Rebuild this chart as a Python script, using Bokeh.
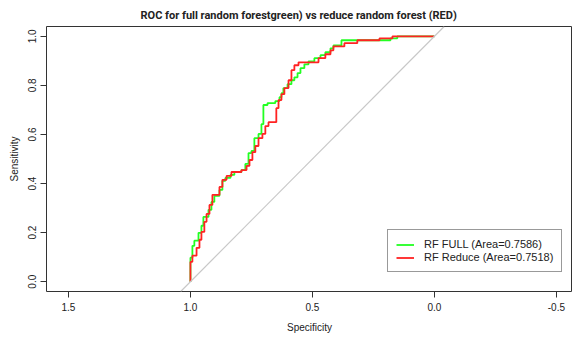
from bokeh.plotting import figure
from bokeh.models import Range1d, FixedTicker, PrintfTickFormatter, Slope, Legend, LegendItem, Title
from bokeh.embed import file_html
from bokeh.resources import INLINE

# ---- data ----
spec_full = [1.000, 1.000, 0.992, 0.992, 0.984, 0.984, 0.967, 0.967, 0.955, 0.955,
             0.947, 0.947, 0.926, 0.926, 0.914, 0.914, 0.902, 0.902, 0.881, 0.881,
             0.869, 0.869, 0.857, 0.857, 0.836, 0.836, 0.820, 0.820, 0.791, 0.791,
             0.775, 0.775, 0.762, 0.762, 0.750, 0.750, 0.738, 0.738, 0.721, 0.721,
             0.709, 0.709, 0.701, 0.701, 0.684, 0.684, 0.652, 0.652, 0.635, 0.635,
             0.627, 0.627, 0.619, 0.619, 0.602, 0.602, 0.586, 0.586, 0.574, 0.574,
             0.561, 0.561, 0.549, 0.549, 0.533, 0.533, 0.516, 0.516, 0.492, 0.492,
             0.467, 0.467, 0.447, 0.447, 0.426, 0.426, 0.414, 0.414, 0.381, 0.381,
             0.180, 0.180, 0.152, 0.152, 0.000]
sens_full = [0.000, 0.098, 0.098, 0.146, 0.146, 0.167, 0.167, 0.199, 0.199, 0.228,
             0.228, 0.264, 0.264, 0.293, 0.293, 0.325, 0.325, 0.350, 0.350, 0.374,
             0.374, 0.411, 0.411, 0.423, 0.423, 0.435, 0.435, 0.447, 0.447, 0.455,
             0.455, 0.480, 0.480, 0.524, 0.524, 0.533, 0.533, 0.585, 0.585, 0.602,
             0.602, 0.642, 0.642, 0.720, 0.720, 0.728, 0.728, 0.736, 0.736, 0.752,
             0.752, 0.768, 0.768, 0.789, 0.789, 0.805, 0.805, 0.821, 0.821, 0.833,
             0.833, 0.850, 0.850, 0.870, 0.870, 0.886, 0.886, 0.898, 0.898, 0.911,
             0.911, 0.923, 0.923, 0.935, 0.935, 0.951, 0.951, 0.963, 0.963, 0.984,
             0.984, 0.992, 0.992, 1.000, 1.000]

spec_reduce = [1.000, 1.000, 0.992, 0.992, 0.975, 0.975, 0.963, 0.963, 0.955, 0.955,
               0.943, 0.943, 0.934, 0.934, 0.922, 0.922, 0.910, 0.910, 0.881, 0.881,
               0.869, 0.869, 0.852, 0.852, 0.832, 0.832, 0.791, 0.791, 0.770, 0.770,
               0.758, 0.758, 0.746, 0.746, 0.734, 0.734, 0.721, 0.721, 0.705, 0.705,
               0.693, 0.693, 0.680, 0.680, 0.648, 0.648, 0.639, 0.639, 0.627, 0.627,
               0.615, 0.615, 0.598, 0.598, 0.586, 0.586, 0.574, 0.574, 0.557, 0.557,
               0.475, 0.475, 0.447, 0.447, 0.426, 0.426, 0.414, 0.414, 0.369, 0.369,
               0.316, 0.316, 0.225, 0.225, 0.172, 0.172, 0.000]
sens_reduce = [0.000, 0.081, 0.081, 0.106, 0.106, 0.138, 0.138, 0.171, 0.171, 0.203,
               0.203, 0.244, 0.244, 0.276, 0.276, 0.313, 0.313, 0.354, 0.354, 0.386,
               0.386, 0.415, 0.415, 0.431, 0.431, 0.447, 0.447, 0.455, 0.455, 0.472,
               0.472, 0.496, 0.496, 0.528, 0.528, 0.553, 0.553, 0.585, 0.585, 0.602,
               0.602, 0.634, 0.634, 0.650, 0.650, 0.707, 0.707, 0.740, 0.740, 0.764,
               0.764, 0.789, 0.789, 0.821, 0.821, 0.862, 0.862, 0.882, 0.882, 0.894,
               0.894, 0.911, 0.911, 0.927, 0.927, 0.943, 0.943, 0.959, 0.959, 0.972,
               0.972, 0.984, 0.984, 0.992, 0.992, 1.000, 1.000]

x_ticks = [1.5, 1.0, 0.5, 0.0, -0.5]
y_ticks = [0.0, 0.2, 0.4, 0.6, 0.8, 1.0]
label_full = "RF FULL (Area=0.7586)"
label_reduce = "RF Reduce (Area=0.7518)"
title_text = "ROC for full random forestgreen) vs reduce random forest (RED)"

FONT = "Liberation Sans"

p = figure(width=572, height=337, output_backend="svg", toolbar_location=None,
           x_range=Range1d(1.59, -0.566), y_range=Range1d(-0.04, 1.04),
           min_border_left=46, min_border_right=0, min_border_top=26, min_border_bottom=46)
p.title = None
p.add_layout(Title(text=title_text, text_font="Roboto", text_font_style="bold",
                   text_font_size="11px", text_color="#222222", align="left",
                   offset=94, standoff=9), "above")

p.background_fill_color = "white"
p.border_fill_color = "white"
p.outline_line_color = "#333333"
p.outline_line_width = 1
p.xgrid.grid_line_color = None
p.ygrid.grid_line_color = None

for ax in (p.xaxis[0], p.yaxis[0]):
    ax.axis_line_color = "#333333"
    ax.major_tick_line_color = "#333333"
    ax.major_tick_in = 0
    ax.major_tick_out = 6
    ax.minor_tick_line_color = None
    ax.major_label_text_font = FONT
    ax.major_label_text_font_size = "10px"
    ax.major_label_text_color = "#222222"
    ax.axis_label_text_font = FONT
    ax.axis_label_text_font_size = "10px"
    ax.axis_label_text_font_style = "normal"
    ax.axis_label_text_color = "#222222"
    ax.formatter = PrintfTickFormatter(format="%.1f")

p.xaxis[0].ticker = FixedTicker(ticks=x_ticks)
p.xaxis[0].bounds = (-0.5, 1.5)
p.xaxis[0].axis_label = "Specificity"
p.xaxis[0].major_label_standoff = 5
p.xaxis[0].axis_label_standoff = 8

p.yaxis[0].ticker = FixedTicker(ticks=y_ticks)
p.yaxis[0].bounds = (0, 1)
p.yaxis[0].axis_label = "Sensitivity"
p.yaxis[0].major_label_orientation = "vertical"
p.yaxis[0].major_label_standoff = 4
p.yaxis[0].axis_label_standoff = 6

# chance diagonal
p.add_layout(Slope(gradient=-1, y_intercept=1, line_color="#c8c8c8", line_width=1.2))

r_full = p.line(spec_full, sens_full, line_color="#22ff22", line_width=1.8)
r_reduce = p.line(spec_reduce, sens_reduce, line_color="#ff2222", line_width=1.8)

legend = Legend(items=[LegendItem(label=label_full, renderers=[r_full]),
                       LegendItem(label=label_reduce, renderers=[r_reduce])],
                location=(341, 19), border_line_color="#333333", border_line_width=1,
                background_fill_color="white", background_fill_alpha=1.0,
                label_text_font=FONT, label_text_font_size="11px", label_text_color="#222222",
                glyph_width=18, glyph_height=11, label_height=11, label_standoff=10,
                spacing=1, padding=8, margin=0)
p.add_layout(legend, "center")

open("out.html", "w").write(file_html(p, INLINE))
